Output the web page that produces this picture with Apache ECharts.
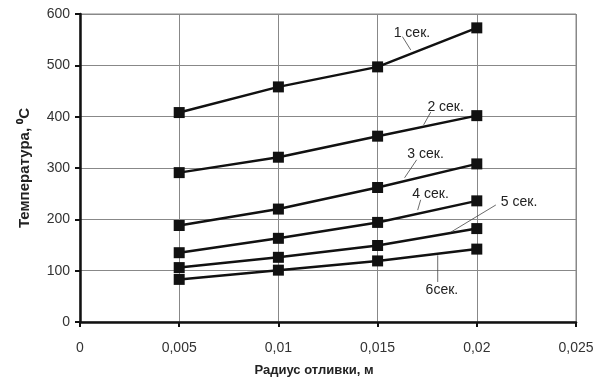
<!DOCTYPE html>
<html><head><meta charset="utf-8">
<script src="https://cdn.jsdelivr.net/npm/echarts@6/dist/echarts.min.js"></script>
<style>html,body{margin:0;padding:0;background:#fff}#c{width:600px;height:385px}</style>
</head><body><div id="c"></div>
<script>
const radius = [0.005, 0.01, 0.015, 0.02];
const seriesNames = ['1 сек.', '2 сек.', '3 сек.', '4 сек.', '5 сек.', '6сек.'];
const s1 = [408, 458, 497, 573];
const s2 = [291, 321, 362, 402];
const s3 = [188, 220, 262, 308];
const s4 = [135, 163, 194, 236];
const s5 = [106, 126, 149, 182];
const s6 = [83, 101, 119, 142];
const allValues = [s1, s2, s3, s4, s5, s6];
const xTicks = [0, 0.005, 0.01, 0.015, 0.02, 0.025];
const yTicks = [0, 100, 200, 300, 400, 500, 600];
// annotation label anchor (data coords): text position and leader line ends
const labelText = [[0.01581, 563], [0.01751, 419], [0.0165, 327], [0.01675, 249], [0.02121, 234], [0.01742, 62]];
const leadFrom = [[0.01625, 556], [0.01768, 409], [0.01697, 316], [0.01717, 238], [0.02096, 228], [0.01803, 78]];
const leadTo = [[0.01667, 530], [0.01732, 384], [0.01636, 281], [0.01702, 218], [0.01869, 175], [0.01803, 130]];

const chart = echarts.init(document.getElementById('c'), null, {renderer: 'canvas'});
const fmt = v => String(v).replace('.', ',');
const font = 'Liberation Sans, Arial, sans-serif';
chart.setOption({
  animation: false,
  backgroundColor: '#fff',
  grid: {left: 80, right: 24, top: 14, bottom: 63, show: true, borderColor: '#888', borderWidth: 1},
  xAxis: {
    type: 'value', min: 0, max: 0.025, interval: 0.005,
    name: 'Радиус отливки, м', nameLocation: 'middle', nameGap: 42,
    nameTextStyle: {fontFamily: font, fontSize: 13, fontWeight: 'bold', color: '#222', padding: [0, 28, 0, 0]},
    axisLine: {lineStyle: {color: '#111', width: 2.5}},
    axisTick: {show: true, inside: false, length: 5, lineStyle: {color: '#111', width: 2}},
    axisLabel: {formatter: fmt, fontFamily: font, fontSize: 14, color: '#333', margin: 19},
    splitLine: {show: true, lineStyle: {color: '#888', width: 1}}
  },
  yAxis: {
    type: 'value', min: 0, max: 600, interval: 100,
    name: 'Температура, ⁰С', nameLocation: 'middle', nameGap: 48,
    nameTextStyle: {fontFamily: font, fontSize: 15, fontWeight: 'bold', color: '#222'},
    axisLine: {show: true, lineStyle: {color: '#111', width: 2.5}},
    axisTick: {show: true, length: 5, lineStyle: {color: '#111', width: 2}},
    axisLabel: {fontFamily: font, fontSize: 14, color: '#333', margin: 10},
    splitLine: {show: true, lineStyle: {color: '#888', width: 1}}
  },
  series: allValues.map((vals, i) => ({
    name: seriesNames[i], type: 'line',
    data: vals.map((v, j) => [radius[j], v]),
    symbol: 'rect', symbolSize: 11, showSymbol: true,
    lineStyle: {color: '#111', width: 2.5},
    itemStyle: {color: '#111'},
    z: 3
  }))
});

function drawAnnotations() {
  const els = [];
  for (let i = 0; i < seriesNames.length; i++) {
    const p = chart.convertToPixel({gridIndex: 0}, labelText[i]);
    const a = chart.convertToPixel({gridIndex: 0}, leadFrom[i]);
    const b = chart.convertToPixel({gridIndex: 0}, leadTo[i]);
    els.push({type: 'line', shape: {x1: a[0], y1: a[1], x2: b[0], y2: b[1]}, style: {stroke: '#444', lineWidth: 0.8}, z: 10});
    els.push({type: 'text', x: p[0], y: p[1], style: {text: seriesNames[i], font: '14px ' + font, fill: '#222', align: 'left', verticalAlign: 'middle'}, z: 10});
  }
  chart.setOption({graphic: els});
}
drawAnnotations();
</script></body></html>
